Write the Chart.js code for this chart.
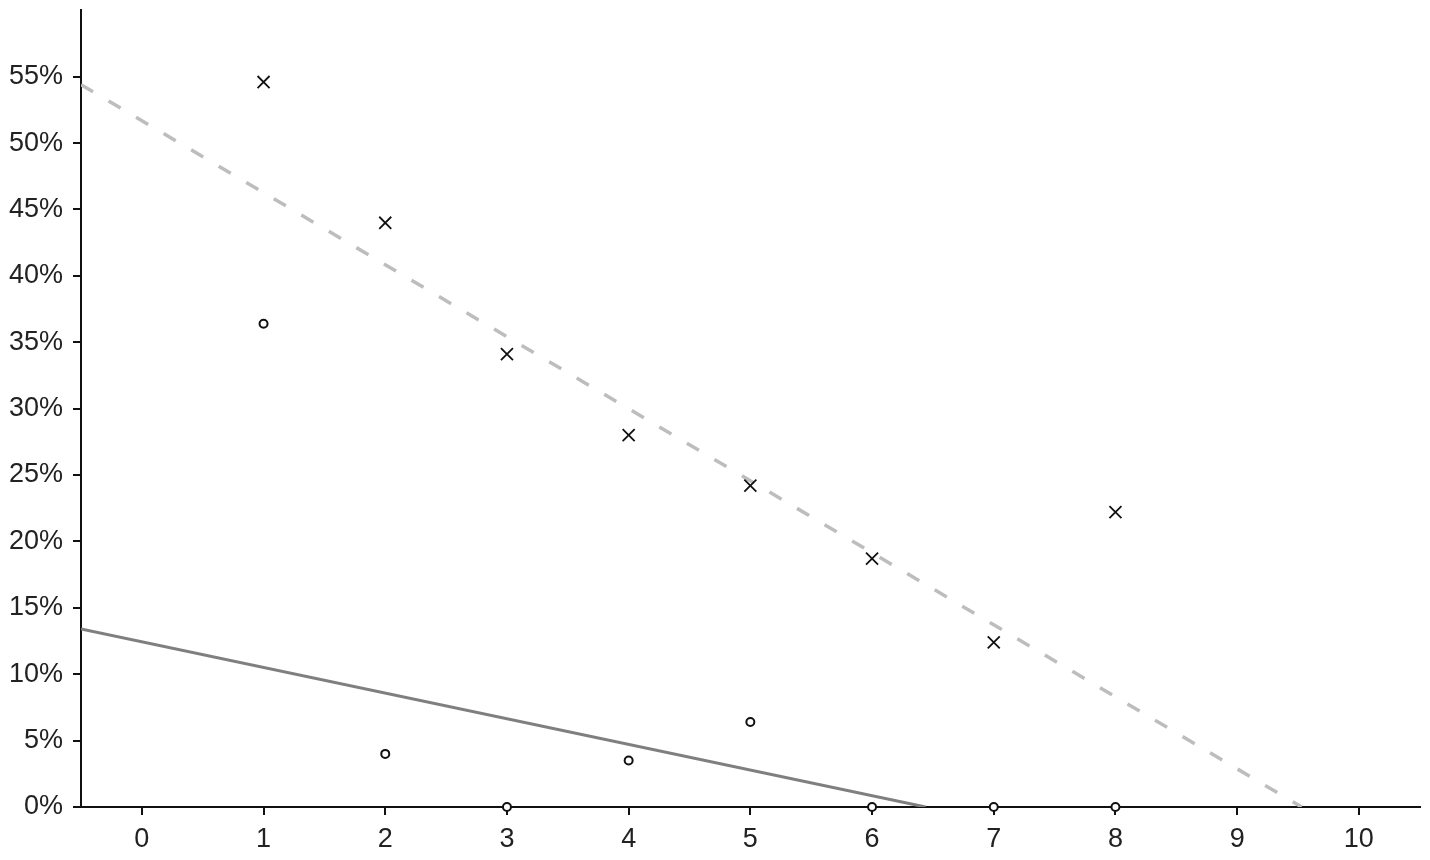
<!DOCTYPE html>
<html>
<head>
<meta charset="utf-8">
<script src="https://cdn.jsdelivr.net/npm/chart.js@4/dist/chart.umd.min.js"></script>
<style>
  html, body { margin: 0; padding: 0; background: #fff; }
  #wrap { width: 1430px; height: 860px; }
</style>
</head>
<body>
<div id="wrap"><canvas id="chart" width="1430" height="860"></canvas></div>
<script>
// data
const xVals = [1, 2, 3, 4, 5, 6, 7, 8];
const crossVals = [54.6, 44.0, 34.1, 28.0, 24.2, 18.7, 12.4, 22.2];
const circleVals = [36.4, 4.0, 0, 3.5, 6.4, 0, 0, 0];

// trend lines (start / end points)
const dashTrendX = [-0.5, 9.53];
const dashTrendY = [54.4, 0];
const solidTrendX = [-0.5, 6.44];
const solidTrendY = [13.4, 0];

const xTicks = [0, 1, 2, 3, 4, 5, 6, 7, 8, 9, 10];
const yTicks = [0, 5, 10, 15, 20, 25, 30, 35, 40, 45, 50, 55];

function pts(xs, ys) {
    return xs.map((x, i) => ({ x: x, y: ys[i] }));
}

const font = { family: "'Liberation Sans', Arial, sans-serif", size: 27 };

new Chart(document.getElementById('chart').getContext('2d'), {
    type: 'scatter',
    data: {
        datasets: [
            {
                data: pts(xVals, crossVals),
                pointStyle: 'crossRot',
                pointRadius: 8.5,
                pointBorderColor: '#111',
                pointBorderWidth: 1.8,
                showLine: false,
                clip: false,
                order: 0
            },
            {
                data: pts(xVals, circleVals),
                pointStyle: 'circle',
                pointRadius: 4,
                pointBorderColor: '#111',
                pointBackgroundColor: '#fff',
                pointBorderWidth: 2,
                showLine: false,
                clip: false,
                order: 0
            },
            {
                data: pts(dashTrendX, dashTrendY),
                showLine: true,
                pointRadius: 0,
                borderColor: '#bdbdbd',
                borderWidth: 3.5,
                borderDash: [14, 18],
                order: 2
            },
            {
                data: pts(solidTrendX, solidTrendY),
                showLine: true,
                pointRadius: 0,
                borderColor: '#7f7f7f',
                borderWidth: 3,
                order: 2
            }
        ]
    },
    options: {
        responsive: false,
        animation: false,
        layout: { padding: { top: 10, right: 6, left: 0, bottom: 0 } },
        plugins: { legend: { display: false }, tooltip: { enabled: false } },
        scales: {
            x: {
                type: 'linear',
                min: -0.5,
                max: 10.5,
                afterBuildTicks: axis => { axis.ticks = xTicks.map(v => ({ value: v })); },
                afterFit: axis => { axis.height = 53; },
                grid: { display: true, drawOnChartArea: false, tickLength: 8, color: '#111', lineWidth: 2 },
                border: { display: true, color: '#111', width: 2 },
                ticks: { color: '#222', font: font, padding: 8, maxRotation: 0 }
            },
            y: {
                type: 'linear',
                min: 0,
                max: 60,
                afterBuildTicks: axis => { axis.ticks = yTicks.map(v => ({ value: v })); },
                afterFit: axis => {
                    axis.width = 81;
                    axis.paddingTop = 0;
                    axis.paddingBottom = 0;
                },
                grid: { display: true, drawOnChartArea: false, tickLength: 8, color: '#111', lineWidth: 2 },
                border: { display: true, color: '#111', width: 2 },
                ticks: { color: '#222', font: font, padding: 10, callback: v => v + '%' }
            }
        }
    }
});
</script>
</body>
</html>
